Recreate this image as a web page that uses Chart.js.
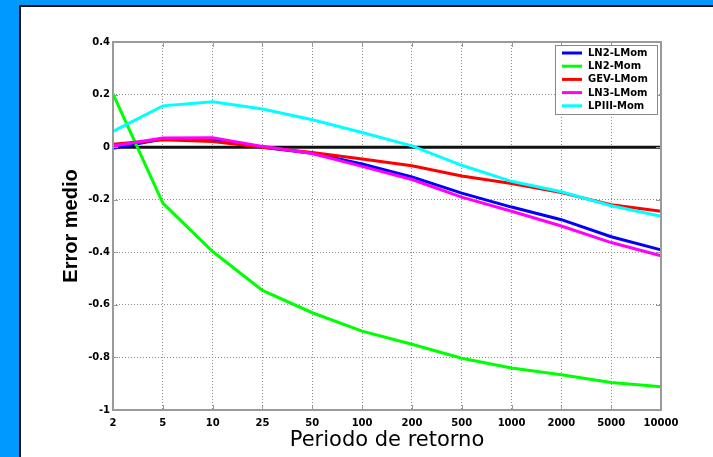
<!DOCTYPE html>
<html><head><meta charset="utf-8">
<script src="https://cdn.jsdelivr.net/npm/chart.js@4"></script>
<style>html,body{margin:0;padding:0;background:#fff;overflow:hidden}canvas{display:block}</style>
</head><body><canvas id="c" width="713" height="457"></canvas>
<script>
// ---- data ----
const periods = ['2','5','10','25','50','100','200','500','1000','2000','5000','10000'];
const ln2LMom = [-0.004, 0.031, 0.029, 0.000, -0.023, -0.064, -0.113, -0.175, -0.228, -0.276, -0.341, -0.391];
const ln2Mom  = [0.203, -0.213, -0.397, -0.545, -0.630, -0.700, -0.750, -0.803, -0.840, -0.866, -0.895, -0.912];
const gevLMom = [0.011, 0.028, 0.021, 0.000, -0.020, -0.045, -0.071, -0.110, -0.138, -0.173, -0.219, -0.244];
const ln3LMom = [0.004, 0.035, 0.036, 0.003, -0.024, -0.073, -0.123, -0.190, -0.244, -0.300, -0.363, -0.413];
const lp3Mom  = [0.060, 0.157, 0.173, 0.145, 0.104, 0.056, 0.005, -0.069, -0.130, -0.170, -0.223, -0.263];
const zeroRef = [0, 0, 0, 0, 0, 0, 0, 0, 0, 0, 0, 0];
const seriesNames  = ['LN2-LMom', 'LN2-Mom', 'GEV-LMom', 'LN3-LMom', 'LPIII-Mom'];
const seriesColors = ['#0000ff', '#00ff00', '#ff0000', '#ff00ff', '#00ffff'];
const yMin = -1, yMax = 0.4, yStep = 0.2;
const xTitle = 'Periodo de retorno';
const yTitle = 'Error medio';

const tickFont = {family: 'DejaVu Sans', size: 10, weight: 'bold'};
const AXIS = '#9a9a9a';

const bgPlugin = {
  id: 'bg',
  beforeDraw(chart) {
    const ctx = chart.ctx, W = chart.width, H = chart.height;
    ctx.save();
    ctx.fillStyle = '#0099ff'; ctx.fillRect(0, 0, W, H);
    ctx.fillStyle = '#ffffff'; ctx.fillRect(19, 5, W - 19, H - 5);
    ctx.fillStyle = '#111111'; ctx.fillRect(19, 5, 2, H - 5); ctx.fillRect(19, 5, W - 19, 2);
    ctx.restore();
  }
};

const framePlugin = {
  id: 'frame',
  afterDatasetsDraw(chart) {
    const ctx = chart.ctx, a = chart.chartArea;
    const xs = chart.scales.x, ys = chart.scales.y;
    ctx.save();
    ctx.strokeStyle = AXIS; ctx.lineWidth = 1;
    ctx.beginPath();
    xs.ticks.forEach((t, i) => {
      const px = Math.round(xs.getPixelForTick(i)) + 0.5;
      ctx.moveTo(px, a.top); ctx.lineTo(px, a.top + 5);
      ctx.moveTo(px, a.bottom); ctx.lineTo(px, a.bottom - 5);
    });
    ys.ticks.forEach((t, i) => {
      const py = Math.round(ys.getPixelForTick(i)) + 0.5;
      ctx.moveTo(a.left, py); ctx.lineTo(a.left + 5, py);
      ctx.moveTo(a.right, py); ctx.lineTo(a.right - 5, py);
    });
    ctx.stroke();
    ctx.lineWidth = 2;
    ctx.strokeRect(a.left, a.top, a.right - a.left, a.bottom - a.top);
    ctx.restore();
  },
  afterDraw(chart) {
    const ctx = chart.ctx, a = chart.chartArea;
    const bx = a.right - 106, by = a.top + 3, bw = 102, bh = 69;
    ctx.save();
    ctx.fillStyle = '#ffffff'; ctx.fillRect(bx, by, bw, bh);
    ctx.strokeStyle = '#888888'; ctx.lineWidth = 1;
    ctx.strokeRect(bx + 0.5, by + 0.5, bw, bh);
    ctx.font = 'bold 10px "DejaVu Sans"';
    ctx.textBaseline = 'middle'; ctx.textAlign = 'left'; ctx.fillStyle = '#000';
    let row = 0;
    chart.data.datasets.forEach(ds => {
      if (ds.hideInLegend) return;
      const y = by + 8 + row * 13.2;
      ctx.strokeStyle = ds.borderColor; ctx.lineWidth = 3;
      ctx.beginPath(); ctx.moveTo(bx + 7, y); ctx.lineTo(bx + 27, y); ctx.stroke();
      ctx.fillText(ds.label, bx + 33, y + 0.5);
      row++;
    });
    ctx.restore();
  }
};

const seriesData = [ln2LMom, ln2Mom, gevLMom, ln3LMom, lp3Mom];
const datasets = seriesData.map((d, i) => ({
  label: seriesNames[i], data: d, borderColor: seriesColors[i], backgroundColor: seriesColors[i],
  borderWidth: 3, pointRadius: 0, tension: 0, fill: false, order: 5 - i
}));
datasets.push({label: 'zero', data: zeroRef, borderColor: '#111111', borderWidth: 3,
  pointRadius: 0, fill: false, order: 10, hideInLegend: true});

new Chart(document.getElementById('c'), {
  type: 'line',
  data: {labels: periods, datasets},
  options: {
    responsive: false, animation: false, devicePixelRatio: 1,
    layout: {padding: {top: 42, right: 52, left: 0, bottom: 0}},
    plugins: {legend: {display: false}, tooltip: {enabled: false}},
    scales: {
      x: {
        type: 'category', offset: false,
        afterFit(s) { s.height = 47; },
        grid: {color: '#8a8a8a', lineWidth: 1, drawTicks: false, offset: false},
        border: {display: false, dash: [1, 2]},
        ticks: {font: tickFont, color: '#000', padding: 7, maxRotation: 0, autoSkip: false},
        title: {display: true, text: xTitle, color: '#000',
          font: {family: 'DejaVu Sans', size: 21, weight: 'normal'}, padding: {top: 0, bottom: 4}}
      },
      y: {
        min: yMin, max: yMax,
        afterFit(s) { s.width = 113; },
        grid: {color: '#8a8a8a', lineWidth: 1, drawTicks: false},
        border: {display: false, dash: [1, 2]},
        ticks: {font: tickFont, color: '#000', padding: 3, stepSize: yStep,
          callback: v => { const r = Math.round(v * 10) / 10; return r === 0 ? '0' : String(r); }},
        title: {display: true, text: yTitle, color: '#000',
          font: {family: 'Liberation Sans', size: 20, weight: 'bold'}, padding: {top: 59, bottom: 0}}
      }
    }
  },
  plugins: [bgPlugin, framePlugin]
});
</script></body></html>
